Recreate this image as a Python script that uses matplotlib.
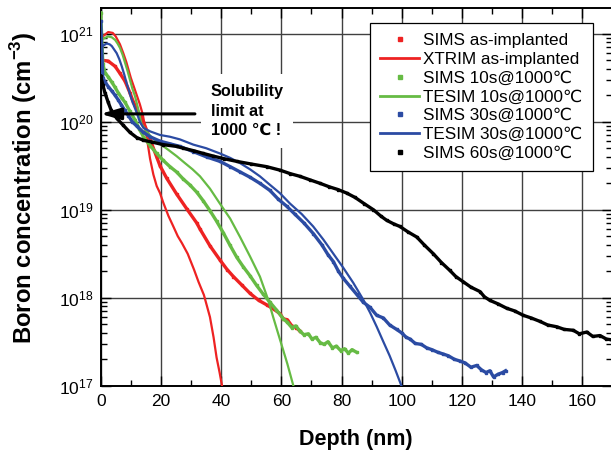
import numpy as np
import matplotlib
matplotlib.use("Agg")
import matplotlib.pyplot as plt
from matplotlib.lines import Line2D
from matplotlib.ticker import MultipleLocator, LogLocator, NullFormatter

plt.rcParams['font.family'] = ['Liberation Sans', 'DejaVu Sans']
plt.rcParams['mathtext.fontset'] = 'custom'
plt.rcParams['mathtext.rm'] = 'Liberation Sans'
plt.rcParams['mathtext.bf'] = 'Liberation Sans:bold'

# depth in nm, concentration stored as log10(cm^-3)
sims_asimp_x = [0.3, 2.5, 4.8, 6.4, 8.1, 9.7, 10.8, 12.9, 14.2, 16.4, 18.6, 19.7, 21.9,
                25.2, 28.6, 31.9, 33.0, 36.3, 39.6, 42.0, 44.1, 47.0, 49.6, 52.5, 55.1,
                57.5, 59.5, 60.7, 62.0, 63.5, 65.0, 66.2]
sims_asimp_log = [20.70, 20.69, 20.63, 20.55, 20.46, 20.33, 20.23, 20.08, 20.00, 19.80, 19.60,
                  19.50, 19.36, 19.18, 19.01, 18.85, 18.78, 18.59, 18.43, 18.32, 18.24, 18.14,
                  18.05, 17.97, 17.92, 17.87, 17.82, 17.76, 17.75, 17.68, 17.66, 17.62]

xtrim_x = [0, 1, 2.5, 4, 5, 6.4, 7.5, 8.5, 10, 11, 12, 13, 14, 15, 15.5, 16.4, 17.5, 18.6,
           19.7, 20.8, 22.5, 24, 25.6, 27, 28.9, 31, 32.5, 34.3, 36.3, 37.5, 38.5, 39.5, 40.3]
xtrim_log = [20.93, 20.98, 21.02, 21.01, 20.97, 20.88, 20.78, 20.68, 20.50, 20.40, 20.30,
             20.20, 20.08, 19.88, 19.78, 19.58, 19.40, 19.27, 19.19, 19.08, 18.93, 18.82,
             18.70, 18.62, 18.50, 18.32, 18.18, 18.03, 17.78, 17.55, 17.32, 17.15, 17.0]

sims10_x = [0.0, 0.7, 1.4, 2.5, 3.7, 4.8, 5.8, 7.0, 8.1, 9.7, 11.4, 12.8, 14.2, 16.4, 18.6,
            20.8, 23.0, 25.2, 27.4, 29.7, 31.9, 34.1, 36.3, 38.5, 40.7, 42.9, 45.2, 47.4,
            49.6, 51.8, 54.0, 56.2, 58.4, 60.7, 62.0, 63.5, 64.8, 66.2, 67.5, 69.0, 70.2,
            71.5, 72.9, 74.2, 75.5, 77.0, 78.3, 79.7, 81.0, 82.3, 83.5, 85.0]
sims10_log = [21.24, 20.66, 20.56, 20.51, 20.45, 20.39, 20.33, 20.27, 20.22, 20.12, 20.02,
              19.92, 19.83, 19.73, 19.64, 19.56, 19.49, 19.43, 19.35, 19.28, 19.20, 19.10,
              18.99, 18.87, 18.74, 18.60, 18.46, 18.35, 18.25, 18.14, 18.04, 17.95, 17.86,
              17.76, 17.72, 17.66, 17.68, 17.62, 17.58, 17.59, 17.53, 17.55, 17.49, 17.47,
              17.50, 17.43, 17.45, 17.40, 17.42, 17.37, 17.41, 17.38]

tesim10_x = [0, 1.2, 2.5, 3.7, 4.8, 5.6, 6.4, 7.3, 8.1, 8.9, 9.7, 10.5, 11.4, 12.5, 13.5,
             15.0, 17.0, 19.7, 22.5, 25.2, 28.0, 30.5, 33.0, 36.3, 39.6, 43.0, 46.3, 49.6,
             52.9, 55.6, 57.3, 59.6, 62.0, 64.0]
tesim10_log = [20.93, 20.95, 20.97, 20.96, 20.93, 20.89, 20.84, 20.76, 20.67, 20.58, 20.48,
               20.38, 20.29, 20.14, 19.98, 19.90, 19.82, 19.75, 19.68, 19.61, 19.53, 19.46,
               19.38, 19.24, 19.07, 18.90, 18.69, 18.47, 18.24, 17.98, 17.78, 17.52, 17.25,
               17.0]

sims30_x = [0.0, 0.7, 1.5, 2.5, 3.7, 4.8, 5.8, 6.9, 8.0, 9.2, 10.5, 12.0, 14.2, 16.4, 19.7,
            23.0, 26.3, 30.8, 35.2, 39.6, 43.0, 46.3, 49.6, 52.9, 56.2, 59.0, 61.8, 64.5,
            67.5, 70.6, 73.5, 75.5, 77.3, 79.0, 80.6, 82.8, 85.0, 87.2, 89.5, 91.7, 93.9,
            96.0, 98.3, 100.0, 101.5, 102.8, 104.5, 106.5, 108.3, 110.0, 112.0, 113.8,
            115.5, 117.5, 119.4, 121.0, 123.0, 124.9, 126.5, 128.0, 129.3, 130.5, 132.0,
            133.5, 134.5]
sims30_log = [21.14, 20.50, 20.45, 20.40, 20.35, 20.30, 20.25, 20.19, 20.13, 20.07, 20.00,
              19.95, 19.88, 19.83, 19.78, 19.75, 19.72, 19.66, 19.60, 19.55, 19.49, 19.43,
              19.37, 19.30, 19.22, 19.12, 19.04, 18.95, 18.85, 18.73, 18.60, 18.49, 18.41,
              18.30, 18.22, 18.13, 18.04, 17.95, 17.89, 17.80, 17.77, 17.69, 17.64, 17.60,
              17.55, 17.53, 17.48, 17.47, 17.43, 17.41, 17.38, 17.36, 17.34, 17.30, 17.28,
              17.26, 17.21, 17.23, 17.18, 17.15, 17.17, 17.10, 17.13, 17.15, 17.17]

tesim30_x = [0, 1.0, 2.0, 3.0, 3.7, 4.5, 5.3, 6.2, 7.0, 7.8, 8.6, 9.5, 10.3, 11.2, 12.0,
             13.0, 14.2, 16.5, 19.7, 23.0, 26.3, 30.8, 35.0, 39.6, 43.0, 46.3, 49.6, 52.9,
             56.0, 59.5, 62.9, 66.8, 70.6, 74.0, 77.3, 80.6, 83.9, 87.2, 89.5, 91.7, 93.9,
             96.0, 98.0, 99.9]
tesim30_log = [20.84, 20.87, 20.89, 20.88, 20.86, 20.82, 20.78, 20.71, 20.63, 20.54, 20.44,
               20.34, 20.25, 20.17, 20.10, 20.00, 19.93, 19.89, 19.85, 19.83, 19.80, 19.74,
               19.70, 19.64, 19.59, 19.53, 19.46, 19.38, 19.29, 19.19, 19.07, 18.95, 18.81,
               18.66, 18.50, 18.34, 18.17, 17.98, 17.83, 17.67, 17.50, 17.34, 17.17, 17.0]

sims60_x = [0.0, 0.7, 1.4, 2.5, 3.5, 5.3, 7.5, 9.7, 12.0, 14.2, 17.0, 20.8, 25.2, 27.4,
            31.0, 34.1, 37.4, 41.0, 45.2, 50.0, 55.1, 59.6, 63.0, 66.2, 69.5, 72.9, 76.0,
            78.8, 81.7, 84.5, 87.5, 90.6, 93.0, 95.0, 97.3, 99.4, 102.0, 105.0, 107.5,
            110.5, 113.2, 116.0, 118.0, 120.5, 123.0, 126.0, 127.5, 129.3, 132.0, 134.9,
            137.5, 140.4, 143.0, 146.0, 148.5, 151.5, 154.0, 157.0, 159.0, 161.5, 163.5,
            165.9, 168.0, 170.0]
sims60_log = [20.52, 20.42, 20.33, 20.22, 20.13, 20.04, 19.96, 19.88, 19.82, 19.79, 19.77,
              19.74, 19.72, 19.70, 19.67, 19.64, 19.61, 19.58, 19.55, 19.52, 19.49, 19.45,
              19.41, 19.38, 19.34, 19.30, 19.26, 19.23, 19.19, 19.14, 19.07, 19.00, 18.93,
              18.88, 18.84, 18.81, 18.75, 18.69, 18.60, 18.50, 18.40, 18.31, 18.24, 18.18,
              18.12, 18.07, 18.01, 17.97, 17.93, 17.88, 17.85, 17.80, 17.77, 17.73, 17.69,
              17.67, 17.64, 17.63, 17.59, 17.61, 17.56, 17.57, 17.53, 17.52]

solubility = 1.23e20

red = '#ee2222'
green = '#66bb44'
blue = '#2b4ba3'

fig = plt.figure(figsize=(6.11, 4.54), dpi=100)
ax = fig.add_axes([100.7 / 611, 1 - 385.7 / 454, 511.7 / 611, 377.4 / 454])

def sims(x, logv, color):
    ax.plot(x, 10 ** np.array(logv), color=color, lw=2.4, marker='s', ms=2.0,
            mec=color, mfc=color, zorder=3)

def sim(x, logv, color):
    ax.plot(x, 10 ** np.array(logv), color=color, lw=1.6, zorder=3)

sims(sims_asimp_x, sims_asimp_log, red)
sim(xtrim_x, xtrim_log, red)
sims(sims10_x, sims10_log, green)
sim(tesim10_x, tesim10_log, green)
sims(sims30_x, sims30_log, blue)
sim(tesim30_x, tesim30_log, blue)
sims(sims60_x, sims60_log, 'k')

ax.set_yscale('log')
ax.set_xlim(0, 170)
ax.set_ylim(1e17, 10 ** 21.29)
ax.xaxis.set_major_locator(MultipleLocator(20))
ax.xaxis.set_minor_locator(MultipleLocator(10))
ax.yaxis.set_major_locator(LogLocator(base=10, numticks=10))
ax.yaxis.set_minor_locator(LogLocator(base=10, subs=np.arange(2, 10), numticks=20))
ax.yaxis.set_minor_formatter(NullFormatter())
ax.tick_params(which='both', direction='in', top=True, right=True, width=1.0)
ax.tick_params(which='major', length=7, labelsize=12.5)
ax.tick_params(which='minor', length=4)
ax.tick_params(axis='x', pad=6)
ax.tick_params(axis='y', pad=5)
ax.grid(True, which='major', color='0.25', lw=1.0)
for s in ax.spines.values():
    s.set_linewidth(1.4)

ax.annotate('', xy=(0, solubility), xytext=(31.3, solubility),
            arrowprops=dict(arrowstyle='-|>,head_length=0.85,head_width=0.25',
                            color='k', lw=2.2, mutation_scale=14, shrinkA=0, shrinkB=0),
            zorder=4)
ax.text(36.5, 10 ** 20.12, 'Solubility\nlimit at\n1000 \u2103 !', fontsize=11.7,
        fontweight='bold', ha='left', va='center', linespacing=1.38,
        bbox=dict(boxstyle='square,pad=0.6', fc='white', ec='none'), zorder=2.5)

handles = [
    Line2D([], [], color=red, marker='s', ms=3, ls='none'),
    Line2D([], [], color=red, lw=2),
    Line2D([], [], color=green, marker='s', ms=3, ls='none'),
    Line2D([], [], color=green, lw=2),
    Line2D([], [], color=blue, marker='s', ms=3, ls='none'),
    Line2D([], [], color=blue, lw=2),
    Line2D([], [], color='k', marker='s', ms=3, ls='none'),
]
labels = ['SIMS as-implanted', 'XTRIM as-implanted', 'SIMS 10s@1000\u2103',
          'TESIM 10s@1000\u2103', 'SIMS 30s@1000\u2103', 'TESIM 30s@1000\u2103',
          'SIMS 60s@1000\u2103']
leg = ax.legend(handles, labels, loc='upper right', bbox_to_anchor=(0.962, 0.961),
                borderaxespad=0, fontsize=12.3, frameon=True, fancybox=False,
                framealpha=1, edgecolor='k', borderpad=0.6, handlelength=2.3,
                handletextpad=0.25, labelspacing=0.22)
leg.get_frame().set_linewidth(0.9)
leg.set_zorder(6)

fig.text(356 / 611, 1 - 440 / 454, 'Depth (nm)', fontsize=15.5, fontweight='bold',
         ha='center', va='center')
fig.text(24 / 611, 1 - 188 / 454, r'Boron concentration (cm$^{\mathbf{-3}}$)',
         fontsize=17.2, fontweight='bold', rotation=90, ha='center', va='center')

fig.savefig('out.png', dpi=100)
